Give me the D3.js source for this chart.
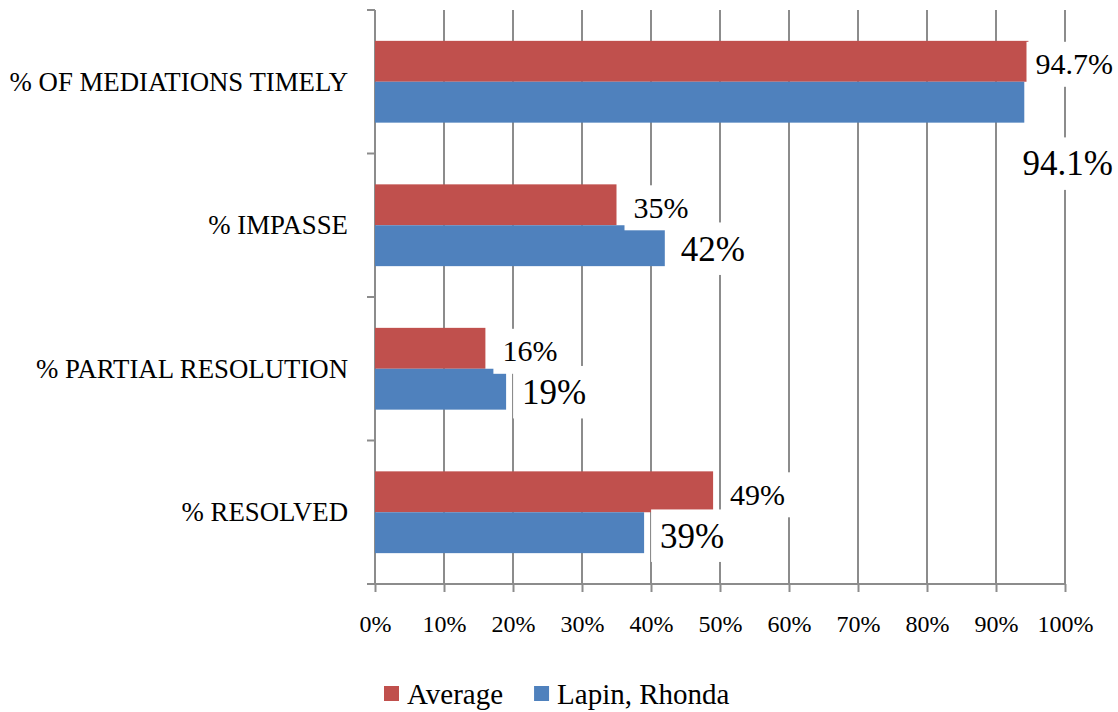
<!DOCTYPE html>
<html>
<head>
<meta charset="utf-8">
<script src="https://cdn.jsdelivr.net/npm/d3@7"></script>
<style>
  html, body { margin: 0; padding: 0; background: #fff; }
  svg { display: block; }
  text { font-family: "Liberation Serif", "Times New Roman", serif; fill: #000; }
</style>
</head>
<body>
<svg id="chart" width="1118" height="712"></svg>
<script>
// ---- data ----
const categories = ["% OF MEDIATIONS TIMELY", "% IMPASSE", "% PARTIAL RESOLUTION", "% RESOLVED"];
const seriesNames = ["Average", "Lapin, Rhonda"];
const averageValues = [0.947, 0.35, 0.16, 0.49];
const lapinValues = [0.941, 0.42, 0.19, 0.39];
const averageLabels = ["94.7%", "35%", "16%", "49%"];
const lapinLabels = ["94.1%", "42%", "19%", "39%"];
const xTickValues = [0, 0.1, 0.2, 0.3, 0.4, 0.5, 0.6, 0.7, 0.8, 0.9, 1.0];
const seriesColors = ["#C0504D", "#4F81BD"];

// ---- layout ----
const W = 1118, H = 712;
const plot = { left: 375, right: 1065, top: 10, bottom: 584 };
const svg = d3.select("#chart");
svg.append("rect").attr("width", W).attr("height", H).attr("fill", "#fff");

const x = d3.scaleLinear().domain([0, 1]).range([plot.left, plot.right]);
const y = d3.scaleBand().domain(categories).range([plot.top, plot.bottom])
  .paddingInner(0.43).paddingOuter(0.215);
const ySub = d3.scaleBand().domain(seriesNames).range([0, y.bandwidth()]);
const color = d3.scaleOrdinal().domain(seriesNames).range(seriesColors);

const gridColor = "#8c8c8c";

// gridlines
svg.append("g").selectAll("line")
  .data(xTickValues.filter(v => v > 0))
  .join("line")
  .attr("x1", d => x(d)).attr("x2", d => x(d))
  .attr("y1", plot.top).attr("y2", plot.bottom)
  .attr("stroke", gridColor).attr("stroke-width", 2);

// x axis
const xAxis = d3.axisBottom(x).tickValues(xTickValues)
  .tickFormat(d => Math.round(d * 100) + "%").tickSize(8).tickSizeOuter(0).tickPadding(16);
const gx = svg.append("g").attr("transform", `translate(0,${plot.bottom})`).call(xAxis);
gx.select(".domain").attr("stroke", gridColor).attr("stroke-width", 2)
  .attr("d", `M${plot.left - 8},0H${plot.right}`);
gx.selectAll(".tick line").attr("stroke", gridColor).attr("stroke-width", 2);
gx.selectAll(".tick text").attr("font-size", 24).attr("dy", null)
  .attr("y", 48).attr("fill", "#000");

// y axis line + ticks at band boundaries
const boundaries = [plot.top].concat(categories.map((c, i) => plot.top + y.step() * (i + 1)));
svg.append("g").selectAll("line").data(boundaries).join("line")
  .attr("x1", plot.left - 8).attr("x2", plot.left)
  .attr("y1", d => d).attr("y2", d => d)
  .attr("stroke", gridColor).attr("stroke-width", 2);
svg.append("line")
  .attr("x1", plot.left).attr("x2", plot.left)
  .attr("y1", plot.top).attr("y2", plot.bottom)
  .attr("stroke", gridColor).attr("stroke-width", 2);

// category labels
svg.append("g").selectAll("text").data(categories).join("text")
  .attr("x", 348)
  .attr("y", d => y(d) + y.bandwidth() / 2 + 9)
  .attr("text-anchor", "end")
  .attr("font-size", 26.8)
  .text(d => d);

// bars
const rows = categories.map((c, i) => ({
  cat: c,
  vals: [
    { s: seriesNames[0], v: averageValues[i], label: averageLabels[i] },
    { s: seriesNames[1], v: lapinValues[i], label: lapinLabels[i] }
  ]
}));

const gBars = svg.append("g");
rows.forEach(r => {
  gBars.selectAll(null).data(r.vals).join("rect")
    .attr("x", x(0))
    .attr("y", d => y(r.cat) + ySub(d.s))
    .attr("width", d => x(d.v) - x(0))
    .attr("height", ySub.bandwidth())
    .attr("fill", d => color(d.s));
});

// data labels with white boxes
const gLabels = svg.append("g");
const fontSizes = { "Average": 30, "Lapin, Rhonda": 35 };
const offsets = { "Average": 17, "Lapin, Rhonda": 16 };
rows.forEach(r => {
  r.vals.forEach(d => {
    const fs = fontSizes[d.s];
    const g = gLabels.append("g");
    const box = g.append("rect").attr("fill", "#fff");
    const t = g.append("text").attr("font-size", fs).text(d.label);
    const w = t.node().getComputedTextLength();
    let tx = x(d.v) + offsets[d.s];
    const barTop = y(r.cat) + ySub(d.s);
    const barBottom = barTop + ySub.bandwidth();
    let cy = barTop + ySub.bandwidth() / 2 + 3;
    if (tx + w > W - 5) {
      tx = W - 5 - w;
      if (d.s === seriesNames[1]) cy = barBottom + 41;
    }
    const baseline = cy + 0.338 * fs;
    t.attr("x", tx).attr("y", baseline);
    const padX = 9, boxH = fs * 1.5;
    box.attr("x", tx - padX).attr("y", cy - boxH / 2)
      .attr("width", w + 2 * padX).attr("height", boxH);
  });
});

// legend
const legend = svg.append("g");
let lx = 384;
seriesNames.forEach(s => {
  legend.append("rect").attr("x", lx).attr("y", 686).attr("width", 15).attr("height", 15)
    .attr("fill", color(s));
  const t = legend.append("text").attr("x", lx + 23).attr("y", 704)
    .attr("font-size", 29).text(s);
  lx = lx + 23 + t.node().getComputedTextLength() + 31;
});
</script>
</body>
</html>
